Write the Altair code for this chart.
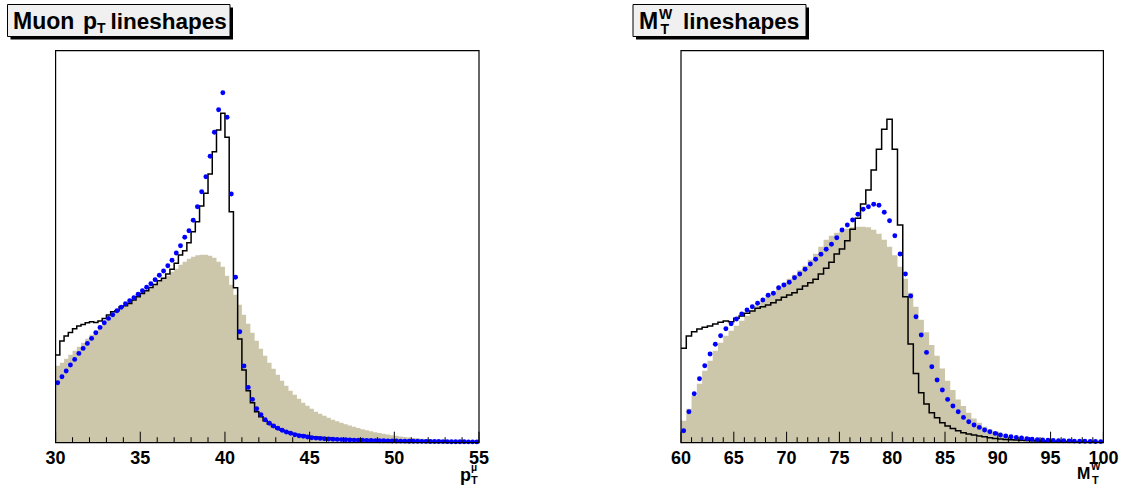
import altair as alt
import pandas as pd

# ---------------- data (relative heights) ----------------
# Muon pT: 100 bins of 0.25 from 30 to 55
pt_lo, pt_hi, pt_w = 30.0, 55.0, 0.25
pt_black = [87.7, 101.7, 106.7, 110.3, 114, 116.7, 118.3, 120, 121, 120.3,
            121.7, 124.3, 127.7, 131, 132, 136, 137, 139.3, 142.7, 146,
            149.3, 152, 155.3, 158.3, 162, 164.4, 168.7, 173.4, 179.4, 187.7,
            192, 200, 211, 221, 236.7, 249.4, 268.7, 291, 312.7, 329.4,
            305.4, 231, 155, 103.7, 72.7, 52, 40, 31, 26, 22,
            18.7, 16, 14, 12.4, 11, 9.7, 8.7, 8, 7.4, 6.7,
            6, 5.6, 5.2, 4.9, 4.6, 4.3, 4.0, 3.8, 3.6, 3.4,
            3.2, 3.0, 2.9, 2.7, 2.6, 2.5, 2.4, 2.3, 2.2, 2.1,
            2.0, 1.9, 1.8, 1.7, 1.6, 1.5, 1.45, 1.4, 1.35, 1.3,
            1.25, 1.2, 1.15, 1.1, 1.05, 1.0, 0.95, 0.9, 0.85, 0.8]
pt_blue = [60, 66, 71.7, 77.7, 83.3, 89.3, 94.3, 99.3, 104.3, 110,
           115.3, 120, 124.3, 128, 132, 135.5, 139, 142, 145, 148.5,
           152, 155.5, 159, 163, 167.5, 171.7, 177, 182.4, 189.7, 197,
           205.4, 212, 222.5, 236, 251, 266, 286.5, 310.5, 333, 350,
           325.4, 248.7, 165.4, 111, 76.7, 55.3, 43.3, 34, 28, 23,
           19.4, 16.7, 14.4, 12.4, 10.7, 9.4, 8, 7, 6.4, 5.7,
           5, 4.6, 4.3, 4, 3.7, 3.5, 3.3, 3.1, 2.9, 2.8,
           2.6, 2.5, 2.4, 2.3, 2.2, 2.1, 2.0, 1.9, 1.8, 1.75,
           1.7, 1.6, 1.55, 1.5, 1.45, 1.4, 1.35, 1.3, 1.25, 1.2,
           1.15, 1.1, 1.05, 1.0, 0.95, 0.9, 0.9, 0.85, 0.85, 0.8]
pt_tan = [77, 80, 84, 88, 92, 96, 100, 104, 108, 112,
          116, 120, 124, 127, 131, 134, 137, 140, 143, 146,
          149, 152, 155, 158, 161, 164, 167, 171, 174, 178,
          181, 184, 186, 187.5, 188, 188, 187, 185, 181, 176,
          167, 158, 148, 138, 128, 119, 110, 102, 94, 87,
          80, 74, 68, 62, 57, 52, 48, 44, 40, 37,
          34, 31, 29, 27, 25, 23, 21.5, 20, 18.5, 17.3,
          16, 14.8, 13.5, 12.4, 11.4, 10.5, 9.7, 8.9, 8.2, 7.5,
          6.9, 6.3, 5.8, 5.3, 4.8, 4.4, 4.0, 3.6, 3.3, 3.0,
          2.7, 2.4, 2.2, 2.0, 1.8, 1.6, 1.4, 1.3, 1.2, 1.1]

# Transverse mass: 80 bins of 0.5 from 60 to 100
mt_lo, mt_hi, mt_w = 60.0, 100.0, 0.5
mt_black = [94.4, 106.7, 111, 113.7, 115.4, 116.7, 118.7, 120.4, 121.7, 121,
            124.4, 126.7, 129.4, 131.7, 134.4, 136, 137.7, 140, 142.7, 145.4,
            147.7, 150, 153.4, 156.7, 160, 163.4, 168.7, 174.4, 180.4, 188.7,
            193.7, 202, 213.4, 224.4, 238.7, 252.7, 272.7, 293.4, 313.4, 323.4,
            293.4, 217.7, 146, 98.7, 69.3, 50, 38.7, 30, 25, 20,
            16.7, 14.3, 12, 10, 8.7, 7.7, 6.7, 6, 5, 4.3,
            3.7, 3.3, 3.0, 2.7, 2.4, 2.2, 2.0, 1.8, 1.7, 1.5,
            1.4, 1.3, 1.2, 1.1, 1.0, 0.95, 0.9, 0.85, 0.8, 0.75]
mt_blue = [12, 31, 49, 64, 77, 88.7, 98.5, 107, 114, 119,
           123.7, 128.7, 132.7, 136, 139.4, 142.7, 147.4, 149.4, 155, 157.7,
           160.4, 165, 168.7, 173.4, 178.7, 183.4, 188.5, 193.4, 198.4, 205,
           212.7, 217.7, 222.7, 228.4, 233.4, 236, 238.4, 237.4, 230.4, 222,
           207, 188.7, 168.7, 146.7, 126, 107.7, 90.3, 76, 62.7, 52.7,
           43.3, 36.7, 31, 25.3, 21, 17.7, 15.3, 12.7, 11, 9.3,
           7.7, 6.7, 6, 5.3, 4.7, 4, 3.5, 3.1, 2.8, 2.5,
           2.3, 2.1, 1.9, 1.8, 1.6, 1.5, 1.4, 1.3, 1.2, 1.1]
mt_tan = [22, 34, 47, 59, 72, 82, 92, 100, 107, 112,
          117, 122, 127, 132, 137, 142, 147, 151, 156, 160,
          164, 168, 172.5, 177, 183, 189, 196, 203, 207, 210,
          212, 214, 215.5, 216, 216, 215.5, 213, 209, 203, 196,
          187.5, 176, 164, 150, 136, 123, 110.5, 97.7, 87, 74.3,
          62, 52.7, 43.3, 36.7, 30, 24.3, 20, 16, 13.3, 10.7,
          8.7, 7.3, 6, 5, 4.2, 3.5, 3, 2.5, 2.1, 1.8,
          1.5, 1.3, 1.2, 1.1, 1.0, 0.9, 0.8, 0.7, 0.6, 0.5]

pt_major = [30, 35, 40, 45, 50, 55]
pt_minor = [31, 32, 33, 34, 36, 37, 38, 39, 41, 42, 43, 44,
            46, 47, 48, 49, 51, 52, 53, 54]
mt_major = [60, 65, 70, 75, 80, 85, 90, 95, 100]
mt_minor = [61, 62, 63, 64, 66, 67, 68, 69, 71, 72, 73, 74, 76, 77, 78, 79,
            81, 82, 83, 84, 86, 87, 88, 89, 91, 92, 93, 94, 96, 97, 98, 99]

# ---------------- layout constants ----------------
W, H, PB = 1126, 442.7, 43.3
Y_DOMAIN = [0, 442.7]
FRAME_TOP = 50.7
FONT = "Liberation Sans"
TAN = "#ccc6aa"
BLUE = "#0000ff"


def step_df(lo, w, vals):
    edges = [lo + w * i for i in range(len(vals) + 1)]
    return pd.DataFrame({"x": edges, "y": list(vals) + [vals[-1]]})


def dots_df(lo, w, vals):
    return pd.DataFrame({"x": [lo + w * (i + 0.5) for i in range(len(vals))], "y": vals})


def panel(lo, hi, rng, w, black, blue, tan, major, minor):
    xs = alt.Scale(domain=[lo, hi], range=rng, nice=False, zero=False)
    ys = alt.Scale(domain=Y_DOMAIN, nice=False, zero=False)
    xenc = alt.X("x:Q", scale=xs, axis=None)
    yenc = alt.Y("y:Q", scale=ys, axis=None)
    area = alt.Chart(step_df(lo, w, tan)).mark_area(
        interpolate="step-after", color=TAN, opacity=1
    ).encode(x=xenc, y=yenc)
    line = alt.Chart(step_df(lo, w, black)).mark_line(
        interpolate="step-after", color="black", strokeWidth=1.5
    ).encode(x=xenc, y=yenc)
    dots = alt.Chart(dots_df(lo, w, blue)).mark_circle(
        size=24, color=BLUE, opacity=1
    ).encode(x=xenc, y=yenc)
    majdf = pd.DataFrame({"x": major, "lab": [str(v) for v in major]})
    tmaj = alt.Chart(majdf).mark_rule(color="black", strokeWidth=1).encode(
        x=xenc, y=alt.value(H), y2=alt.value(H - 11))
    tmin = alt.Chart(pd.DataFrame({"x": minor})).mark_rule(color="black", strokeWidth=1).encode(
        x=xenc, y=alt.value(H), y2=alt.value(H - 5.5))
    labels = alt.Chart(majdf).mark_text(
        font=FONT, fontSize=18, fontWeight="bold", color="black",
        align="center", baseline="alphabetic"
    ).encode(x=xenc, y=alt.value(463.5), text="lab:N")
    frame = alt.Chart(pd.DataFrame({"a": [0]})).mark_rect(
        fillOpacity=0, stroke="black", strokeWidth=1.2
    ).encode(x=alt.value(rng[0]), x2=alt.value(rng[1]), y=alt.value(FRAME_TOP), y2=alt.value(H))
    return alt.layer(area, line, dots, tmaj, tmin, labels, frame)


def txt(s, x, y, size, align="left"):
    return alt.Chart(pd.DataFrame({"a": [0]})).mark_text(
        text=s, font=FONT, fontSize=size, fontWeight="bold", color="black",
        align=align, baseline="alphabetic"
    ).encode(x=alt.value(x), y=alt.value(y))


def box(x1, y1, x2, y2):
    one = pd.DataFrame({"a": [0]})
    shadow = alt.Chart(one).mark_rect(color="black").encode(
        x=alt.value(x1 + 3), x2=alt.value(x2 + 3), y=alt.value(y1 + 3), y2=alt.value(y2 + 3))
    face = alt.Chart(one).mark_rect(fill="#f0f0f0", stroke="black", strokeWidth=1).encode(
        x=alt.value(x1), x2=alt.value(x2), y=alt.value(y1), y2=alt.value(y2))
    return [shadow, face]


left = panel(pt_lo, pt_hi, [55.6, 479.0], pt_w, pt_black, pt_blue, pt_tan, pt_major, pt_minor)
right = panel(mt_lo, mt_hi, [681.0, 1103.4], mt_w, mt_black, mt_blue, mt_tan, mt_major, mt_minor)

decor = []
decor += box(7.5, 4.5, 230, 36.5)
decor += [txt("Muon", 13, 28.5, 23), txt("p", 83, 28.5, 23), txt("T", 97, 32.5, 14),
          txt("lineshapes", 110.5, 28.5, 22.5)]
decor += box(633, 4.5, 806, 36.5)
decor += [txt("M", 639, 28.5, 23), txt("W", 659, 19, 14), txt("T", 660.5, 34, 14),
          txt("lineshapes", 683, 28.5, 22.5)]
# axis titles
decor += [txt("p", 460, 481, 18), txt("\u03bc", 471, 470.5, 10), txt("T", 471, 484, 11)]
decor += [txt("M", 1077, 479, 16), txt("W", 1091, 470, 10), txt("T", 1092, 484, 11)]

chart = alt.layer(left, right, *decor).resolve_scale(x="independent").properties(
    width=W, height=H,
    autosize=alt.AutoSizeParams(type="none"),
    padding={"left": 0, "top": 0, "right": 0, "bottom": PB},
    background="white",
).configure_view(stroke=None)

chart.save("out.html", embed_options={"renderer": "svg", "actions": False})
